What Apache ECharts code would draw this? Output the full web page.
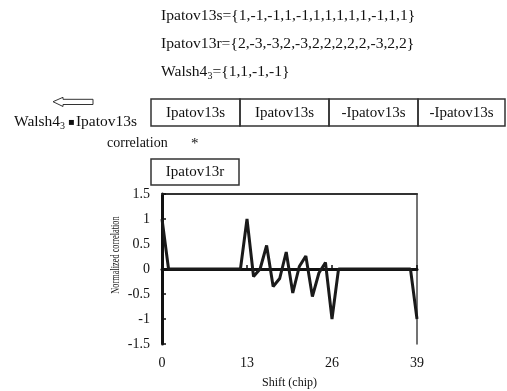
<!DOCTYPE html>
<html>
<head>
<meta charset="utf-8">
<script src="https://cdn.jsdelivr.net/npm/echarts@6/dist/echarts.min.js"></script>
<style>html,body{margin:0;padding:0;background:#fff}#c{width:507px;height:391px}</style>
</head>
<body>
<div id="c"></div>
<script>
// Data
var corr = [1,0,0,0,0,0,0,0,0,0,0,0,0,1,-0.15,0,0.47,-0.35,-0.19,0.34,-0.48,0.05,0.26,-0.55,-0.08,0.13,-1,0,0,0,0,0,0,0,0,0,0,0,0,-1];
var xTicks = [0, 13, 26, 39];
var yTicks = [-1.5, -1, -0.5, 0, 0.5, 1, 1.5];
var topLines = ['Ipatov13s={1,-1,-1,1,-1,1,1,1,1,1,-1,1,1}', 'Ipatov13r={2,-3,-3,2,-3,2,2,2,2,2,-3,2,2}'];
var boxLabels = ['Ipatov13s', 'Ipatov13s', '-Ipatov13s', '-Ipatov13s'];

var FONT = 'Liberation Serif';
var chart = echarts.init(document.getElementById('c'));

var graphics = [];
topLines.forEach(function (t, i) {
  graphics.push({type: 'text', left: 161, top: 8 + i * 28,
    style: {text: t, font: '15.6px "' + FONT + '"', fill: '#111'}});
});
graphics.push({type: 'text', left: 161, top: 64,
  style: {text: 'Walsh4{s|3}={1,1,-1,-1}', font: '15.6px "' + FONT + '"', fill: '#111',
    rich: {s: {fontSize: 10, fontFamily: FONT, padding: [8, 0, 0, 0]}}}});

var bx = [151, 240, 329, 418, 505];
boxLabels.forEach(function (t, i) {
  graphics.push({type: 'rect', shape: {x: bx[i], y: 99, width: bx[i + 1] - bx[i], height: 27},
    style: {fill: 'none', stroke: '#333', lineWidth: 1.5}});
  graphics.push({type: 'text', x: (bx[i] + bx[i + 1]) / 2, y: 113,
    style: {text: t, font: '15px "' + FONT + '"', fill: '#111', align: 'center', verticalAlign: 'middle'}});
});
// arrow
graphics.push({type: 'polygon', shape: {points: [[53, 101.7], [63, 97.3], [63, 99.3], [93, 99.3], [93, 104.5], [63, 104.5], [63, 106.5]]},
  style: {fill: '#fff', stroke: '#333', lineWidth: 1}});
graphics.push({type: 'text', left: 14, top: 114,
  style: {text: 'Walsh4{s|3}{d|▪}Ipatov13s', font: '15.5px "' + FONT + '"', fill: '#111',
    rich: {s: {fontSize: 10, fontFamily: FONT, padding: [8, 2, 0, 0]}, d: {fontSize: 10, fontFamily: 'DejaVu Sans', padding: [0, 1, 0, 1]}}}});
graphics.push({type: 'text', left: 107, top: 136,
  style: {text: 'correlation', font: '14px "' + FONT + '"', fill: '#111'}});
graphics.push({type: 'text', left: 191, top: 137,
  style: {text: '*', font: '15px "' + FONT + '"', fill: '#111'}});
graphics.push({type: 'rect', shape: {x: 151, y: 159, width: 88, height: 26},
  style: {fill: 'none', stroke: '#333', lineWidth: 1.5}});
graphics.push({type: 'text', x: 195, y: 172,
  style: {text: 'Ipatov13r', font: '15px "' + FONT + '"', fill: '#111', align: 'center', verticalAlign: 'middle'}});
// y-axis title
graphics.push({type: 'text', x: 116, y: 255, rotation: Math.PI / 2, scaleX: 0.64,
  style: {text: 'Normalized correlation', font: '13px "' + FONT + '"', fill: '#111', align: 'center', verticalAlign: 'middle'}});

var axisTxt = {fontFamily: FONT, fontSize: 14, color: '#111'};
chart.setOption({
  animation: false,
  grid: {left: 162, right: 90, top: 194, bottom: 47},
  xAxis: [{
    type: 'value', min: xTicks[0], max: xTicks[xTicks.length - 1], interval: 13,
    name: 'Shift (chip)', nameLocation: 'middle', nameGap: 33,
    nameTextStyle: {fontFamily: FONT, fontSize: 12, color: '#111'},
    axisLine: {lineStyle: {color: '#111', width: 3}},
    axisTick: {inside: true, length: 4, lineStyle: {color: '#111', width: 1.5}},
    axisLabel: Object.assign({margin: 12}, axisTxt),
    splitLine: {show: false}
  }, {
    type: 'value', position: 'top', min: 0, max: 39,
    axisLine: {show: true, onZero: false, lineStyle: {color: '#333', width: 2}},
    axisTick: {show: false}, axisLabel: {show: false}, splitLine: {show: false}
  }],
  yAxis: [{
    type: 'value', min: yTicks[0], max: yTicks[yTicks.length - 1], interval: 0.5,
    axisLine: {show: true, onZero: false, lineStyle: {color: '#111', width: 3}},
    axisTick: {show: true, inside: true, length: 4, lineStyle: {color: '#111', width: 1.5}},
    axisLabel: Object.assign({margin: 12}, axisTxt),
    splitLine: {show: false}
  }, {
    type: 'value', position: 'right', min: -1.5, max: 1.5,
    axisLine: {show: true, onZero: false, lineStyle: {color: '#444', width: 1.5}},
    axisTick: {show: false}, axisLabel: {show: false}, splitLine: {show: false}
  }],
  series: [{
    type: 'line', xAxisIndex: 0, yAxisIndex: 0,
    data: corr.map(function (v, i) { return [i, v]; }),
    showSymbol: false, symbol: 'none',
    lineStyle: {color: '#1a1a1a', width: 3}
  }],
  graphic: graphics
});
</script>
</body>
</html>
